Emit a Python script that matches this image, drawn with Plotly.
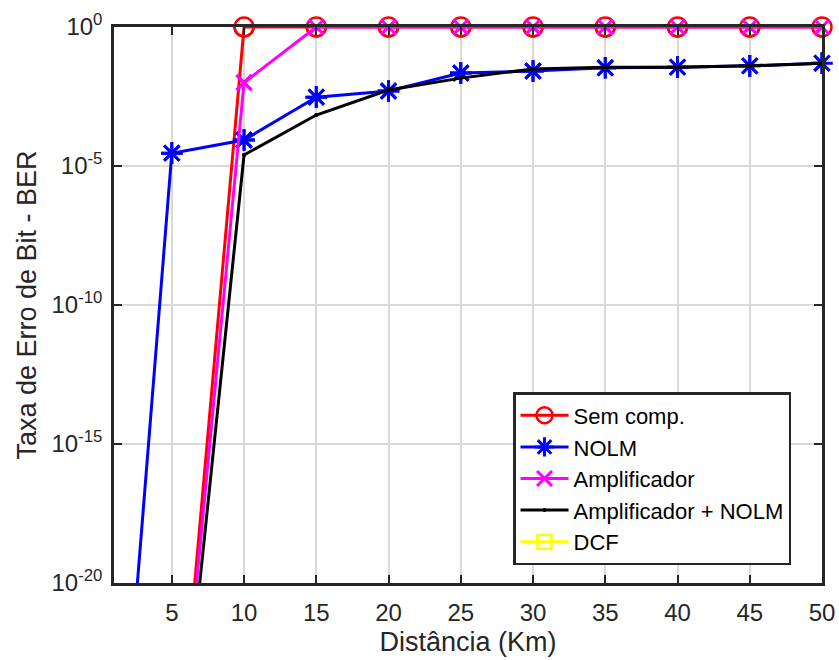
import plotly.graph_objects as go

# ---- data ----
distance = [0, 5, 10, 15, 20, 25, 30, 35, 40, 45, 50]
sem_comp = [None, 5e-30, 1, 1, 1, 1, 1, 1, 1, 1, 1]
nolm = [1e-37, 2.9e-5, 8.6e-5, 3.0e-3, 5.0e-3, 2.2e-2, 2.6e-2, 3.4e-2, 3.6e-2, 4.0e-2, 5.0e-2]
amplificador = [None, 4e-30, 1e-2, 1, 1, 1, 1, 1, 1, 1, 1]
amp_nolm = [None, 2e-30, 2.5e-5, 6.8e-4, 5.4e-3, 1.45e-2, 3.1e-2, 3.6e-2, 3.6e-2, 4.0e-2, 5.0e-2]
dcf = [0, 0, 0, 0, 0, 0, 0, 0, 0, 0, 0]

series_names = ["Sem comp.", "NOLM", "Amplificador", "Amplificador + NOLM", "DCF"]
series_values = [sem_comp, nolm, amplificador, amp_nolm, dcf]

x_ticks = [5, 10, 15, 20, 25, 30, 35, 40, 45, 50]
y_tick_exps = [0, -5, -10, -15, -20]

styles = [
    dict(color="#ff0000", symbol="circle-open", size=19, lw=2.5),
    dict(color="#0000ff", symbol="asterisk-open", size=18, lw=3),
    dict(color="#ff00ff", symbol="x-thin-open", size=15, lw=3),
    dict(color="#000000", symbol="circle", size=4, lw=0),
    dict(color="#ffff00", symbol="square-open", size=14, lw=2.5),
]

X_MIN, X_MAX = 1, 50
Y_MIN, Y_MAX = 1e-20, 1

fig = go.Figure()
for name, vals, st in zip(series_names, series_values, styles):
    mk = dict(symbol=st["symbol"], size=st["size"], color=st["color"],
              line=dict(color=st["color"], width=st["lw"]))
    fig.add_trace(go.Scatter(
        x=distance, y=vals, name=name, mode="lines+markers",
        line=dict(color=st["color"], width=3), marker=mk,
        showlegend=True,
    ))
    # unclipped markers for in-range points (so markers on the top border show fully)
    mx, my = [], []
    for xv, yv in zip(distance, vals):
        if yv is not None and yv > 0 and Y_MIN <= yv <= Y_MAX and X_MIN <= xv <= X_MAX:
            mx.append(xv)
            my.append(yv)
    if mx:
        fig.add_trace(go.Scatter(
            x=mx, y=my, mode="markers", marker=mk, showlegend=False,
            cliponaxis=False, hoverinfo="skip",
        ))

axis_col = "#262626"
grid_col = "#d9d9d9"
fig.update_layout(
    width=839, height=660,
    paper_bgcolor="white", plot_bgcolor="white",
    margin=dict(l=114, r=17, t=27, b=77, autoexpand=False),
    font=dict(family="Liberation Sans, Arial, sans-serif", color="#262626", size=22),
    legend=dict(
        x=0.5636, y=0.3435, xanchor="left", yanchor="top",
        bgcolor="white", bordercolor=axis_col, borderwidth=2.5,
        font=dict(size=22, color="#000000"),
        itemwidth=48, tracegroupgap=0, entrywidth=232,
    ),
    showlegend=True,
)
fig.update_xaxes(
    range=[X_MIN, X_MAX], tickvals=x_ticks,
    ticks="inside", ticklen=8, tickwidth=2, tickcolor=axis_col,
    showline=True, linecolor=axis_col, linewidth=2.5, mirror="ticks",
    showgrid=True, gridcolor=grid_col, gridwidth=1.5, zeroline=False,
    tickfont=dict(size=24), ticklabelstandoff=6,
    title=dict(text="Distância (Km)", font=dict(size=27), standoff=8),
)
fig.update_yaxes(
    type="log", range=[-20, 0],
    tickvals=[10.0 ** e for e in y_tick_exps],
    ticktext=[f"10<sup>{e}</sup>" for e in y_tick_exps],
    ticks="inside", ticklen=8, tickwidth=2, tickcolor=axis_col,
    showline=True, linecolor=axis_col, linewidth=2.5, mirror="ticks",
    showgrid=True, gridcolor=grid_col, gridwidth=1.5, zeroline=False,
    tickfont=dict(size=24), ticklabelstandoff=4,
    title=dict(text="Taxa de Erro de Bit - BER", font=dict(size=27), standoff=8),
)

fig.write_html(
    "out.html",
    config={"displayModeBar": False},
    post_script="document.body.style.margin='0';document.body.style.overflow='hidden';",
)
